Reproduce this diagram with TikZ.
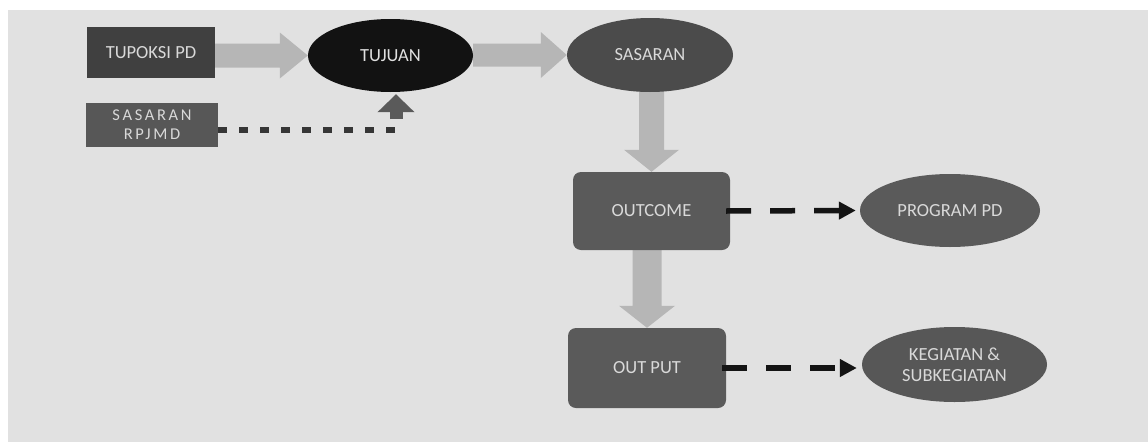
\documentclass[tikz,border=0pt]{standalone}
\usepackage{fontspec}
\setmainfont{Carlito}
\usetikzlibrary{shapes.geometric,arrows.meta,calc}
\pgfdeclarelayer{background}
\pgfdeclarelayer{panel}
\pgfsetlayers{panel,background,main}
\definecolor{panelgray}{HTML}{E1E1E1}
\definecolor{arrowgray}{HTML}{B6B6B6}
\definecolor{txtgray}{HTML}{D9D9D9}
\definecolor{boxA}{HTML}{404040}
\definecolor{boxB}{HTML}{575757}
\definecolor{ellA}{HTML}{121212}
\definecolor{ellB}{HTML}{4B4B4B}
\definecolor{boxC}{HTML}{5A5A5A}
\definecolor{dotgray}{HTML}{363636}
\definecolor{upgray}{HTML}{5A5A5A}
\tikzset{
  lbl/.style={text=txtgray,font=\fontsize{18.5}{21}\selectfont,inner sep=0pt,align=center},
  sqbox/.style={lbl,rectangle},
  rbox/.style={lbl,rectangle,rounded corners=8pt,fill=boxC},
  oval/.style={lbl,ellipse},
  blockarrow/.style={fill=arrowgray},
  dashconn/.style={line width=5.5pt,dash pattern=on 25pt off 19pt,color=black!92,-{Triangle[length=17pt,width=17pt]}},
  dotconn/.style={line width=6.5pt,dash pattern=on 9pt off 12pt,color=dotgray},
  upconn/.style={line width=13pt,color=upgray,-{Triangle[length=18pt,width=36pt]}}
}
\begin{document}
\begin{tikzpicture}[x=1pt,y=-1pt]
\useasboundingbox (0,0) rectangle (1148,442);
\begin{pgfonlayer}{panel}
\fill[panelgray] (8,10) rectangle (1148,442);
\end{pgfonlayer}
% nodes
\node[sqbox,fill=boxA,minimum width=128pt,minimum height=51pt] (tup) at (151,52.5) {TUPOKSI PD};
\node[sqbox,fill=boxB,minimum width=132pt,minimum height=44pt,font=\fontsize{16.5}{19}\selectfont\addfontfeatures{LetterSpace=16}] (srp) at (152,125) {SASARAN\\RPJMD};
\node[oval,fill=ellA,text=white!88!black,minimum width=165pt,minimum height=73pt] (tuj) at (390.5,55.5) {TUJUAN};
\node[oval,fill=ellB,minimum width=166pt,minimum height=74pt] (sas) at (650,55) {SASARAN};
\node[rbox,minimum width=157pt,minimum height=78pt] (out) at (651.5,211) {OUTCOME};
\node[rbox,minimum width=158pt,minimum height=80pt] (outp) at (647,368) {OUT PUT};
\node[oval,fill=boxC,minimum width=180pt,minimum height=73pt] (prog) at (950,210.5) {PROGRAM PD};
\node[oval,fill=boxB,minimum width=185pt,minimum height=75pt] (keg) at (954.5,364.5) {KEGIATAN \&\\SUBKEGIATAN};
\coordinate (corner) at (396,130);
% block arrows
\begin{pgfonlayer}{background}
\fill[blockarrow] let \p1=(tup.east), \p2=(tuj.west) in
  (\x1,\y2+12pt) -- (\x2-28pt,\y2+12pt) -- (\x2-28pt,\y2+23pt) -- (\x2,\y2)
  -- (\x2-28pt,\y2-23pt) -- (\x2-28pt,\y2-12pt) -- (\x1,\y2-12pt) -- cycle;
\fill[blockarrow] let \p1=(tuj.east), \p2=(sas.west) in
  (\x1,\y2+11.5pt) -- (\x2-26pt,\y2+11.5pt) -- (\x2-26pt,\y2+23pt) -- (\x2,\y2)
  -- (\x2-26pt,\y2-23pt) -- (\x2-26pt,\y2-11.5pt) -- (\x1,\y2-11.5pt) -- cycle;
\fill[blockarrow] let \p1=(sas.south), \p2=(out.north) in
  (\x2-12.5pt,\y1+3pt) -- (\x2-12.5pt,\y2+22pt) -- (\x2-27.5pt,\y2+22pt) -- (\x2,\y2)
  -- (\x2+27.5pt,\y2+22pt) -- (\x2+12.5pt,\y2+22pt) -- (\x2+12.5pt,\y1+3pt) -- cycle;
\fill[blockarrow] let \p1=(out.south), \p2=(outp.north) in
  (\x2-14.5pt,\y1) -- (\x2-14.5pt,\y2+22pt) -- (\x2-28pt,\y2+22pt) -- (\x2,\y2)
  -- (\x2+28pt,\y2+22pt) -- (\x2+14.5pt,\y2+22pt) -- (\x2+14.5pt,\y1) -- cycle;
\end{pgfonlayer}
% connectors
\draw[dotconn] ([yshift=-5pt]srp.east) -- (corner);
\draw[upconn] ([yshift=11pt]corner) -- ([xshift=5.5pt,yshift=-2pt]tuj.south);
\draw[dashconn] ([xshift=-4pt]out.east) -- ([xshift=-4pt]prog.west);
\draw[dashconn] ([xshift=-4pt]outp.east) -- ([xshift=-5pt]outp.east -| keg.west);
\end{tikzpicture}
\end{document}
